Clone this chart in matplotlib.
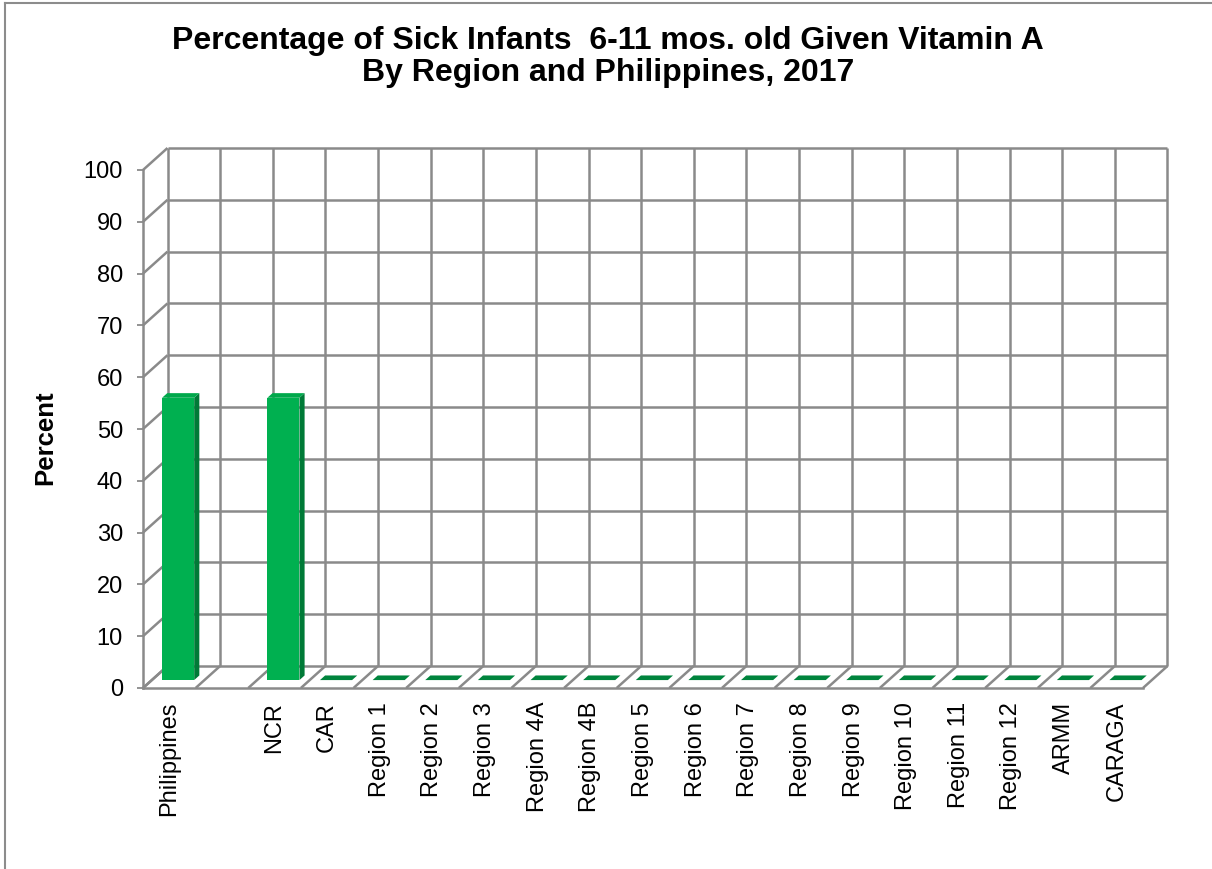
import matplotlib
matplotlib.use("Agg")
import matplotlib.pyplot as plt
from matplotlib.patches import Polygon
from matplotlib.lines import Line2D
import numpy as np

plt.rcParams['font.family'] = ['Liberation Sans', 'DejaVu Sans']

categories = ["Philippines", "", "NCR", "CAR", "Region 1", "Region 2", "Region 3",
              "Region 4A", "Region 4B", "Region 5", "Region 6", "Region 7", "Region 8",
              "Region 9", "Region 10", "Region 11", "Region 12", "ARMM", "CARAGA"]
values = [54.5, np.nan, 54.5, 0, 0, 0, 0, 0, 0, 0, 0, 0, 0, 0, 0, 0, 0, 0, 0]
yticks = list(range(0, 101, 10))
title = "Percentage of Sick Infants  6-11 mos. old Given Vitamin A\nBy Region and Philippines, 2017"
ylabel = "Percent"

W, H = 1212, 869
fig = plt.figure(figsize=(W / 100, H / 100), dpi=100)

# axes: front plane, x 0..N maps 143..1143 px, y 0..100 maps 688..170 px
N = len(categories)
x0px, x1px = 143, 1143
y0px, y1px = 688, 170
ax = fig.add_axes([x0px / W, 1 - y0px / H, (x1px - x0px) / W, (y0px - y1px) / H])
ax.set_xlim(0, N)
ax.set_ylim(0, 100)

pxx = (x1px - x0px) / N
pxy = (y0px - y1px) / 100
DX = 24.5 / pxx   # depth offset in category units
DY = 22.0 / pxy   # depth offset in value units

grid_c = '#8a8a8a'
grid_lw = 1.8

def seg(xs, ys):
    ax.add_line(Line2D(xs, ys, color=grid_c, lw=grid_lw, clip_on=False,
                       solid_capstyle='butt', zorder=1))

# back wall
for v in yticks:
    seg([DX, N + DX], [v + DY, v + DY])
for i in range(N + 1):
    seg([i + DX, i + DX], [DY, 100 + DY])
# left wall diagonals
for v in yticks:
    seg([0, DX], [v, v + DY])
# floor diagonals
for i in range(N + 1):
    seg([i, i + DX], [0, DY])

# bars
f0, f1 = 0.36, 0.57
bw = 0.61
front_c = '#00b050'
side_c = '#007a37'
top_c = '#00a84b'
flat_c = '#00843d'
for i, v in enumerate(values):
    if np.isnan(v):
        continue
    cx = i + 0.5
    xa = cx - bw / 2 + f0 * DX
    xb = cx + bw / 2 + f0 * DX
    ya = f0 * DY
    ddx = (f1 - f0) * DX
    ddy = (f1 - f0) * DY
    if v > 0:
        ax.add_patch(Polygon([(xa, ya), (xb, ya), (xb, ya + v), (xa, ya + v)],
                             closed=True, fc=front_c, ec='none', clip_on=False, zorder=3))
        ax.add_patch(Polygon([(xb, ya), (xb + ddx, ya + ddy), (xb + ddx, ya + v + ddy), (xb, ya + v)],
                             closed=True, fc=side_c, ec='none', clip_on=False, zorder=3))
        ax.add_patch(Polygon([(xa, ya + v), (xb, ya + v), (xb + ddx, ya + v + ddy), (xa + ddx, ya + v + ddy)],
                             closed=True, fc=top_c, ec='none', clip_on=False, zorder=3))
    else:
        ax.add_patch(Polygon([(xa, ya), (xb, ya), (xb + ddx, ya + ddy), (xa + ddx, ya + ddy)],
                             closed=True, fc=flat_c, ec='none', clip_on=False, zorder=3))

# axes styling
for s in ['top', 'right']:
    ax.spines[s].set_visible(False)
for s in ['left', 'bottom']:
    ax.spines[s].set_color(grid_c)
    ax.spines[s].set_linewidth(grid_lw)
    ax.spines[s].set_zorder(2)
ax.set_yticks(yticks)
ax.set_yticklabels([str(t) for t in yticks], fontsize=17)
ax.tick_params(axis='y', length=4.5, width=1.3, color=grid_c, pad=10)
ax.set_xticks([i + 0.5 for i in range(N)])
ax.set_xticklabels(categories, rotation=90, fontsize=17, va='top', ha='center')
ax.tick_params(axis='x', length=0, pad=10)
ax.set_facecolor('none')

fig.text(45 / W, 1 - 438 / H, ylabel, rotation=90, fontsize=18.5, fontweight='bold',
         ha='center', va='center')
fig.text(608 / W, 1 - 57 / H, title, fontsize=23, fontweight='bold',
         ha='center', va='center', linespacing=1.13)

# outer frame
fig.add_artist(Line2D([4.5 / W, 4.5 / W], [0, 1 - 3 / H], color='#8c8c8c', lw=1.5,
                      transform=fig.transFigure))
fig.add_artist(Line2D([4.5 / W, 1], [1 - 3 / H, 1 - 3 / H], color='#8c8c8c', lw=1.5,
                      transform=fig.transFigure))

fig.savefig('out.png', dpi=100)
